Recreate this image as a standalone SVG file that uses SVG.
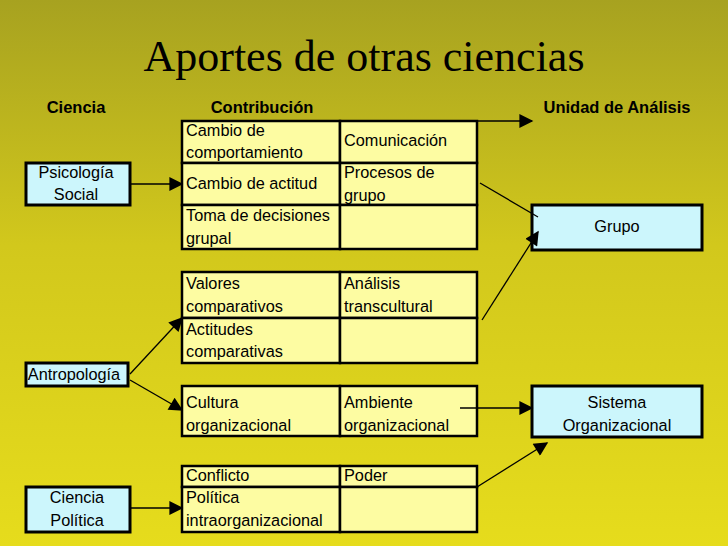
<svg xmlns="http://www.w3.org/2000/svg" width="728" height="546" viewBox="0 0 728 546">
<defs>
<linearGradient id="bg" x1="0" y1="0" x2="0" y2="1">
<stop offset="0" stop-color="#a7a220"/><stop offset="0.45" stop-color="#d2c81c"/><stop offset="1" stop-color="#e6dc1c"/>
</linearGradient>
<marker id="ahb" viewBox="0 0 10 10" refX="9" refY="5" markerWidth="16" markerHeight="14" orient="auto" markerUnits="userSpaceOnUse"><path d="M0,0L10,5L0,10z" fill="#000"/></marker>
</defs>
<style>
.t{font-family:"Liberation Sans",Arial,sans-serif;font-size:16.3px;fill:#000}
.h{font-family:"Liberation Sans",Arial,sans-serif;font-size:16.5px;font-weight:bold;fill:#000}
.c{fill:#fdfca2;stroke:#000;stroke-width:2.5}
.b{fill:#ccf6fc;stroke:#000;stroke-width:3}
.l{stroke:#000;stroke-width:1.3;fill:none}
</style>
<rect width="728" height="546" fill="url(#bg)"/>
<text x="364" y="71" text-anchor="middle" font-family="Liberation Serif,serif" font-size="44" fill="#000">Aportes de otras ciencias</text>
<text class="h" x="76" y="113" text-anchor="middle">Ciencia</text>
<text class="h" x="262" y="113" text-anchor="middle">Contribución</text>
<text class="h" x="617" y="113" text-anchor="middle">Unidad de Análisis</text>
<g id="t1">
<rect class="c" x="182" y="121" width="158" height="42"/><rect class="c" x="340" y="121" width="137" height="42"/>
<rect class="c" x="182" y="163" width="158" height="42"/><rect class="c" x="340" y="163" width="137" height="42"/>
<rect class="c" x="182" y="205" width="158" height="44"/><rect class="c" x="340" y="205" width="137" height="44"/>
<text class="t" x="186" y="136">Cambio de</text><text class="t" x="186" y="158">comportamiento</text>
<text class="t" x="344" y="146">Comunicación</text>
<text class="t" x="186" y="189">Cambio de actitud</text>
<text class="t" x="344" y="178">Procesos de</text><text class="t" x="344" y="201">grupo</text>
<text class="t" x="186" y="221">Toma de decisiones</text><text class="t" x="186" y="244">grupal</text>
</g>
<g id="t2">
<rect class="c" x="182" y="272" width="158" height="46"/><rect class="c" x="340" y="272" width="137" height="46"/>
<rect class="c" x="182" y="318" width="158" height="45"/><rect class="c" x="340" y="318" width="137" height="45"/>
<text class="t" x="186" y="289">Valores</text><text class="t" x="186" y="312">comparativos</text>
<text class="t" x="344" y="289">Análisis</text><text class="t" x="344" y="312">transcultural</text>
<text class="t" x="186" y="335">Actitudes</text><text class="t" x="186" y="357">comparativas</text>
</g>
<g id="t3">
<rect class="c" x="182" y="386" width="158" height="50"/><rect class="c" x="340" y="386" width="137" height="50"/>
<text class="t" x="186" y="408">Cultura</text><text class="t" x="186" y="431">organizacional</text>
<text class="t" x="344" y="408">Ambiente</text><text class="t" x="344" y="431">organizacional</text>
</g>
<g id="t4">
<rect class="c" x="182" y="466" width="158" height="21"/><rect class="c" x="340" y="466" width="137" height="21"/>
<rect class="c" x="182" y="487" width="158" height="45"/><rect class="c" x="340" y="487" width="137" height="45"/>
<text class="t" x="186" y="481">Conflicto</text><text class="t" x="344" y="481">Poder</text>
<text class="t" x="186" y="503">Política</text><text class="t" x="186" y="526">intraorganizacional</text>
</g>
<g id="psico"><rect class="b" x="26" y="163" width="104" height="42"/><text class="t" x="76" y="178" text-anchor="middle">Psicología</text><text class="t" x="76" y="200" text-anchor="middle">Social</text></g>
<g id="antro"><rect class="b" x="26" y="363" width="102" height="23"/><text class="t" x="74" y="380" text-anchor="middle">Antropología</text></g>
<g id="cpol"><rect class="b" x="26" y="487" width="104" height="45"/><text class="t" x="77" y="503" text-anchor="middle">Ciencia</text><text class="t" x="77" y="526" text-anchor="middle">Política</text></g>
<g id="grupo"><rect class="b" x="532" y="205" width="170" height="45"/><text class="t" x="617" y="232" text-anchor="middle">Grupo</text></g>
<g id="sistema"><rect class="b" x="532" y="386" width="170" height="51"/><text class="t" x="617" y="408" text-anchor="middle">Sistema</text><text class="t" x="617" y="431" text-anchor="middle">Organizacional</text></g>
<g id="connectors">
<line class="l" x1="130" y1="184" x2="182" y2="184" marker-end="url(#ahb)"/>
<line class="l" x1="130" y1="374" x2="182" y2="318" marker-end="url(#ahb)"/>
<line class="l" x1="130" y1="380" x2="182" y2="410" marker-end="url(#ahb)"/>
<line class="l" x1="130" y1="508" x2="182" y2="508" marker-end="url(#ahb)"/>
<line class="l" x1="477" y1="121" x2="532" y2="121" marker-end="url(#ahb)"/>
<line class="l" x1="480" y1="183" x2="538" y2="217"/>
<line class="l" x1="482" y1="320" x2="538" y2="232" marker-end="url(#ahb)"/>
<line class="l" x1="460" y1="408" x2="532" y2="408" marker-end="url(#ahb)"/>
<line class="l" x1="477" y1="487" x2="547" y2="443" marker-end="url(#ahb)"/>
</g>
</svg>
